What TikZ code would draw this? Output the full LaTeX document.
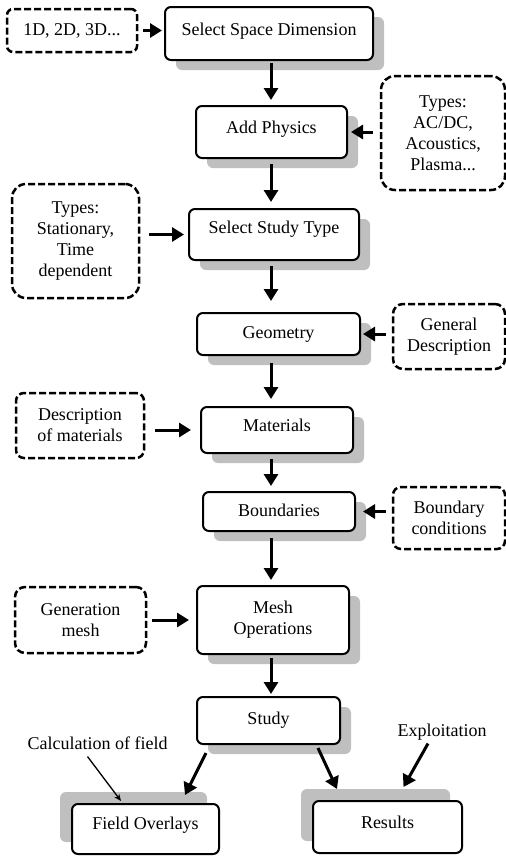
\documentclass[tikz,border=0pt]{standalone}
\usepackage{fontspec}
\setmainfont{Liberation Serif}
\usetikzlibrary{arrows.meta,shadows}

\begin{document}
\begin{tikzpicture}[x=1pt,y=-1pt,
    stepbox/.style={draw, line width=2pt, rounded corners=6pt, fill=white,
      font=\fontsize{18}{21}\selectfont, text height=13pt, text depth=4pt},
    downshadow/.style={drop shadow={shadow xshift=11pt,shadow yshift=-10pt,fill=gray!50,opacity=1}},
    upshadow/.style={drop shadow={shadow xshift=-12pt,shadow yshift=12pt,fill=gray!50,opacity=1}},
    notebox/.style={draw, line width=2.5pt, dash pattern=on 7pt off 3pt, rounded corners=#1,
      font=\fontsize{18}{21}\selectfont, align=center, inner sep=0pt},
    notebox/.default=8pt,
    tagtext/.style={font=\fontsize{18}{21}\selectfont, text height=13pt, text depth=4pt},
    flowarrow/.style={line width=3pt, -{Triangle[length=12pt,width=14pt]}},
    thinarrow/.style={line width=1.3pt, -{Stealth[length=7pt,width=6pt]}}]
    \useasboundingbox (0,0) rectangle (506,857);
    \coordinate (spine) at (271,0);

    \node[stepbox, downshadow, minimum width=208pt, minimum height=53pt, text depth=10pt] (space) at (269,33.5) {Select Space Dimension};
    \node[stepbox, downshadow, minimum width=151pt, minimum height=52pt, text depth=11pt] (physics) at (271.5,132) {Add Physics};
    \node[stepbox, downshadow, minimum width=170pt, minimum height=51pt, text depth=16pt] (studytype) at (274,234.5) {Select Study Type};
    \node[stepbox, downshadow, minimum width=163pt, minimum height=42pt, text depth=5pt] (geometry) at (278.5,334) {Geometry};
    \node[stepbox, downshadow, minimum width=152pt, minimum height=46pt, text depth=11pt] (materials) at (277,430) {Materials};
    \node[stepbox, downshadow, minimum width=152pt, minimum height=39pt] (boundaries) at (279,511.5) {Boundaries};
    \node[stepbox, downshadow, minimum width=152pt, minimum height=68pt, text height=, text depth=, align=center] (mesh) at (273,620) {Mesh\\Operations};
    \node[stepbox, downshadow, minimum width=143pt, minimum height=47pt, text depth=6pt] (solve) at (268.5,720.5) {Study};
    \node[stepbox, upshadow, minimum width=147pt, minimum height=50pt, text depth=13pt] (fields) at (145.5,829) {Field Overlays};
    \node[stepbox, upshadow, minimum width=149pt, minimum height=52pt, text depth=11pt] (results) at (387.5,827) {Results};

    \node[notebox=6pt, minimum width=130pt, minimum height=43pt] (dims) at (72,30.5) {1D, 2D, 3D...};
    \node[notebox=14pt, minimum width=124pt, minimum height=114pt] (physicstypes) at (443,133) {Types:\\AC/DC,\\Acoustics,\\Plasma...};
    \node[notebox=14pt, minimum width=127pt, minimum height=114pt] (studytypes) at (75.5,241) {Types:\\Stationary,\\Time\\dependent};
    \node[notebox=10pt, minimum width=112pt, minimum height=65pt] (geomdesc) at (449,336.5) {General\\Description};
    \node[notebox, minimum width=128pt, minimum height=65pt] (matdesc) at (80,425.5) {Description\\of materials};
    \node[notebox, minimum width=112pt, minimum height=62pt] (bounddesc) at (449,518) {Boundary\\conditions};
    \node[notebox=10pt, minimum width=131pt, minimum height=66pt] (meshdesc) at (80.5,620) {Generation\\mesh};

    \node[tagtext] (calc) at (97.5,744.5) {Calculation of field};
    \node[tagtext] (exploit) at (442,731.5) {Exploitation};

    \draw[flowarrow, shorten <=5pt, shorten >=2pt] (dims.east) -- (dims.east -| space.west);
    \draw[flowarrow, shorten <=2pt, shorten >=5pt] (space.south -| spine) -- (physics.north -| spine);
    \draw[flowarrow, shorten <=7pt, shorten >=3pt] (physicstypes.west |- physics) -- (physics.east);
    \draw[flowarrow, shorten <=5pt, shorten >=6pt] (physics.south -| spine) -- (studytype.north -| spine);
    \draw[flowarrow, shorten <=9pt, shorten >=4pt] (studytypes.east |- studytype) -- (studytype.west);
    \draw[flowarrow, shorten <=5pt, shorten >=11pt] (studytype.south -| spine) -- (geometry.north -| spine);
    \draw[flowarrow, shorten <=6pt, shorten >=2pt] (geomdesc.west |- geometry) -- (geometry.east);
    \draw[flowarrow, shorten <=7pt, shorten >=7pt] (geometry.south -| spine) -- (materials.north -| spine);
    \draw[flowarrow, shorten <=10pt, shorten >=9pt] (matdesc.east |- materials) -- (materials.west);
    \draw[flowarrow, shorten <=5pt, shorten >=5pt] (materials.south -| spine) -- (boundaries.north -| spine);
    \draw[flowarrow, shorten <=6pt, shorten >=7pt] (bounddesc.west |- boundaries) -- (boundaries.east);
    \draw[flowarrow, shorten <=6pt, shorten >=5pt] (boundaries.south -| spine) -- (mesh.north -| spine);
    \draw[flowarrow, shorten <=5pt, shorten >=7pt] (meshdesc.east |- mesh) -- (mesh.west);
    \draw[flowarrow, shorten <=3pt, shorten >=2pt] (mesh.south -| spine) -- (solve.north -| spine);
    \draw[flowarrow] ([shift={(10,8)}]solve.south west) -- ([shift={(-35,-8)}]fields.north east);
    \draw[flowarrow] ([shift={(-23,3)}]solve.south east) -- ([shift={(25,-11)}]results.north west);
    \draw[thinarrow] ([xshift=-10pt]calc.south) -- ([shift={(50,-2)}]fields.north west);
    \draw[flowarrow] ([xshift=-14pt]exploit.south) -- ([shift={(16,-13)}]results.north);
\end{tikzpicture}
\end{document}
